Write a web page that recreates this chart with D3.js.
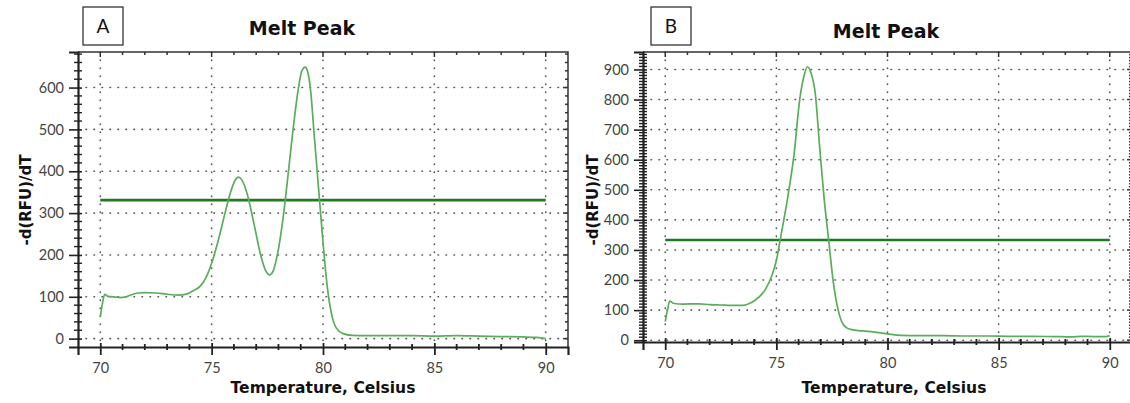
<!DOCTYPE html>
<html>
<head>
<meta charset="utf-8">
<script src="https://cdn.jsdelivr.net/npm/d3@7"></script>
<style>
  body { margin: 0; background: #fff; }
  svg { display: block; }
</style>
</head>
<body>
<script>
// melt peak curves
var tempA = [70.0, 70.1, 70.2, 70.35, 70.6, 70.9, 71.1, 71.4, 71.7, 72.0, 72.5, 73.0, 73.5, 73.9, 74.2, 74.5, 74.8, 75.0, 75.3, 75.6, 75.85, 76.05, 76.2, 76.35, 76.6, 76.9, 77.2, 77.45, 77.6, 77.75, 77.95, 78.2, 78.45, 78.7, 78.9, 79.05, 79.2, 79.3, 79.45, 79.6, 79.8, 80.0, 80.2, 80.4, 80.6, 80.9, 81.3, 82, 83, 84, 85, 86, 87, 88, 89, 89.6, 90.0];
var rfuA  = [52, 85, 106, 101, 100, 98, 99, 105, 109, 110, 109, 106, 104, 107, 115, 126, 152, 180, 235, 300, 350, 378, 386, 380, 345, 275, 200, 160, 152, 160, 200, 285, 400, 520, 600, 640, 649, 640, 590, 490, 360, 230, 120, 55, 25, 12, 8, 7, 7, 7, 6, 7, 6, 5, 4, 3, 0];

var tempB = [70.0, 70.1, 70.2, 70.4, 70.8, 71.5, 72.0, 72.5, 73.0, 73.5, 73.9, 74.2, 74.5, 74.8, 75.0, 75.2, 75.5, 75.8, 76.05, 76.25, 76.4, 76.55, 76.75, 76.95, 77.15, 77.35, 77.55, 77.75, 77.95, 78.15, 78.4, 78.7, 79.0, 79.5, 80.0, 80.6, 81.5, 82.5, 83.5, 84.5, 85.5, 86.5, 87.5, 88.3, 88.7, 89.3, 89.8, 90.0];
var rfuB  = [62, 100, 130, 122, 120, 121, 118, 117, 116, 116, 126, 142, 168, 215, 265, 345, 470, 620, 800, 880, 909, 890, 820, 640, 470, 335, 200, 110, 60, 42, 35, 32, 30, 26, 21, 16, 15, 15, 14, 14, 13, 13, 12, 11, 13, 12, 12, 15];

var thresholdA = 331;
var thresholdB = 333;

var xTicks = [70, 75, 80, 85, 90];
var yTicksA = [0, 100, 200, 300, 400, 500, 600];
var yTicksB = [0, 100, 200, 300, 400, 500, 600, 700, 800, 900];

var panelLetters = ["A", "B"];
var chartTitle = "Melt Peak";
var xTitle = "Temperature, Celsius";
var yTitle = "-d(RFU)/dT";

var W = 1130, H = 403;
var tickFont = "Lato, 'Open Sans', sans-serif";
var boldFont = "'DejaVu Sans', Verdana, sans-serif";

var svg = d3.select("body").append("svg")
    .attr("width", W)
    .attr("height", H);

function drawPanel(p) {

  var x = d3.scaleLinear().domain([69, 91]).range([p.left, p.right]);
  var y = d3.scaleLinear().domain(p.yDomain).range([p.bottom, p.top]);

  var g = svg.append("g");

  // dotted grid
  g.selectAll(".hgrid").data(p.yTicks).enter().append("line")
      .attr("x1", p.left).attr("x2", p.right)
      .attr("y1", function(d) { return y(d); })
      .attr("y2", function(d) { return y(d); })
      .attr("stroke", "#555")
      .attr("stroke-width", 1.6)
      .attr("stroke-linecap", "round")
      .attr("stroke-dasharray", "0.5,7.5");

  g.selectAll(".vgrid").data(xTicks).enter().append("line")
      .attr("y1", p.top).attr("y2", p.bottom)
      .attr("x1", function(d) { return x(d); })
      .attr("x2", function(d) { return x(d); })
      .attr("stroke", "#555")
      .attr("stroke-width", 1.6)
      .attr("stroke-linecap", "round")
      .attr("stroke-dasharray", "0.5,7.5");

  // frame top and right
  g.append("path")
      .attr("d", "M" + p.left + "," + p.top + "H" + p.right + "V" + p.bottom)
      .attr("fill", "none")
      .attr("stroke", "#333")
      .attr("stroke-width", 1.5);

  // minor ticks on top and right
  var xMinor = d3.range(70, 91, 1);
  g.selectAll(".topTick").data(xMinor).enter().append("line")
      .attr("x1", function(d) { return x(d); })
      .attr("x2", function(d) { return x(d); })
      .attr("y1", p.top).attr("y2", function(d) { return p.top + (d % 5 === 0 ? 5 : 3); })
      .attr("stroke", "#333").attr("stroke-width", 1.5);

  var yMinor = d3.range(0, p.yDomain[1], p.yMinorStep);
  g.selectAll(".rightTick").data(yMinor).enter().append("line")
      .attr("y1", function(d) { return y(d); })
      .attr("y2", function(d) { return y(d); })
      .attr("x1", p.right).attr("x2", function(d) { return p.right - (d % 100 === 0 ? 5 : 3); })
      .attr("stroke", "#333").attr("stroke-width", 1.5);

  // bottom axis
  var xAxis = d3.axisBottom(x).tickValues(xTicks).tickSize(8).tickPadding(8)
      .tickFormat(d3.format("d"));
  var gx = g.append("g")
      .attr("transform", "translate(0," + p.bottom + ")")
      .call(xAxis);
  gx.select(".domain").attr("stroke", "#222").attr("stroke-width", 2.2);
  gx.selectAll(".tick line").attr("stroke", "#222").attr("stroke-width", 1.8)
      .attr("y1", -4);
  gx.selectAll(".tick text")
      .attr("fill", "#444")
      .style("font-family", tickFont)
      .style("font-size", "14.5px");
  gx.selectAll(".minor").data(xMinor.filter(function(d) { return d % 5 !== 0; }))
    .enter().append("line")
      .attr("x1", function(d) { return x(d); })
      .attr("x2", function(d) { return x(d); })
      .attr("y1", -3).attr("y2", 3)
      .attr("stroke", "#222").attr("stroke-width", 1.8);

  // left axis
  var yAxis = d3.axisLeft(y).tickValues(p.yTicks).tickSize(9).tickPadding(5)
      .tickFormat(d3.format("d"));
  var gy = g.append("g")
      .attr("transform", "translate(" + p.left + ",0)")
      .call(yAxis);
  gy.select(".domain").attr("stroke", "#222").attr("stroke-width", 2.2);
  gy.selectAll(".tick line").attr("stroke", "#222").attr("stroke-width", 1.6)
      .attr("x1", 4);
  gy.selectAll(".tick text")
      .attr("fill", "#444")
      .style("font-family", tickFont)
      .style("font-size", "14.5px");
  gy.selectAll(".minor").data(yMinor.filter(function(d) { return d % 100 !== 0; }))
    .enter().append("line")
      .attr("y1", function(d) { return y(d); })
      .attr("y2", function(d) { return y(d); })
      .attr("x1", -4).attr("x2", 4)
      .attr("stroke", "#222").attr("stroke-width", 1.4);

  // threshold
  g.append("line")
      .attr("x1", x(70)).attr("x2", x(90))
      .attr("y1", y(p.threshold)).attr("y2", y(p.threshold))
      .attr("stroke", "#1f7a1f")
      .attr("stroke-width", 2.6);

  // curve
  var pts = p.temps.map(function(t, i) { return [t, p.rfu[i]]; });
  var line = d3.line()
      .x(function(d) { return x(d[0]); })
      .y(function(d) { return y(d[1]); })
      .curve(d3.curveMonotoneX);
  g.append("path")
      .datum(pts)
      .attr("d", line)
      .attr("fill", "none")
      .attr("stroke", "#5aad5a")
      .attr("stroke-width", 1.7);

  // titles
  g.append("text")
      .attr("x", p.titleX).attr("y", p.titleY)
      .attr("text-anchor", "middle")
      .style("font-family", boldFont)
      .style("font-weight", "bold")
      .style("font-size", "19px")
      .attr("fill", "#111")
      .text(chartTitle);

  g.append("text")
      .attr("x", p.xTitleX).attr("y", 393)
      .attr("text-anchor", "middle")
      .style("font-family", boldFont)
      .style("font-weight", "bold")
      .style("font-size", "15.5px")
      .attr("fill", "#111")
      .text(xTitle);

  g.append("text")
      .attr("transform", "translate(" + p.yTitleX + "," + p.yTitleY + ") rotate(-90)")
      .attr("text-anchor", "middle")
      .style("font-family", boldFont)
      .style("font-weight", "bold")
      .style("font-size", "15px")
      .attr("fill", "#111")
      .text(yTitle);

  // panel letter box
  g.append("rect")
      .attr("x", p.boxX).attr("y", 7)
      .attr("width", 40).attr("height", 38)
      .attr("fill", "none")
      .attr("stroke", "#333")
      .attr("stroke-width", 1.3);
  g.append("text")
      .attr("x", p.boxX + 20).attr("y", 33)
      .attr("text-anchor", "middle")
      .style("font-family", tickFont)
      .style("font-size", "19px")
      .attr("fill", "#111")
      .text(p.letter);
}

drawPanel({
  letter: panelLetters[0], temps: tempA, rfu: rfuA, threshold: thresholdA,
  yTicks: yTicksA, yDomain: [-20, 685], yMinorStep: 20,
  left: 78, right: 568, top: 52, bottom: 347,
  titleX: 302, titleY: 35, xTitleX: 323, yTitleX: 31, yTitleY: 200, boxX: 83
});

drawPanel({
  letter: panelLetters[1], temps: tempB, rfu: rfuB, threshold: thresholdB,
  yTicks: yTicksB, yDomain: [-6, 958], yMinorStep: 10,
  left: 643, right: 1132, top: 52, bottom: 342,
  titleX: 886, titleY: 38, xTitleX: 894, yTitleX: 598, yTitleY: 200, boxX: 651
});
</script>
</body>
</html>
